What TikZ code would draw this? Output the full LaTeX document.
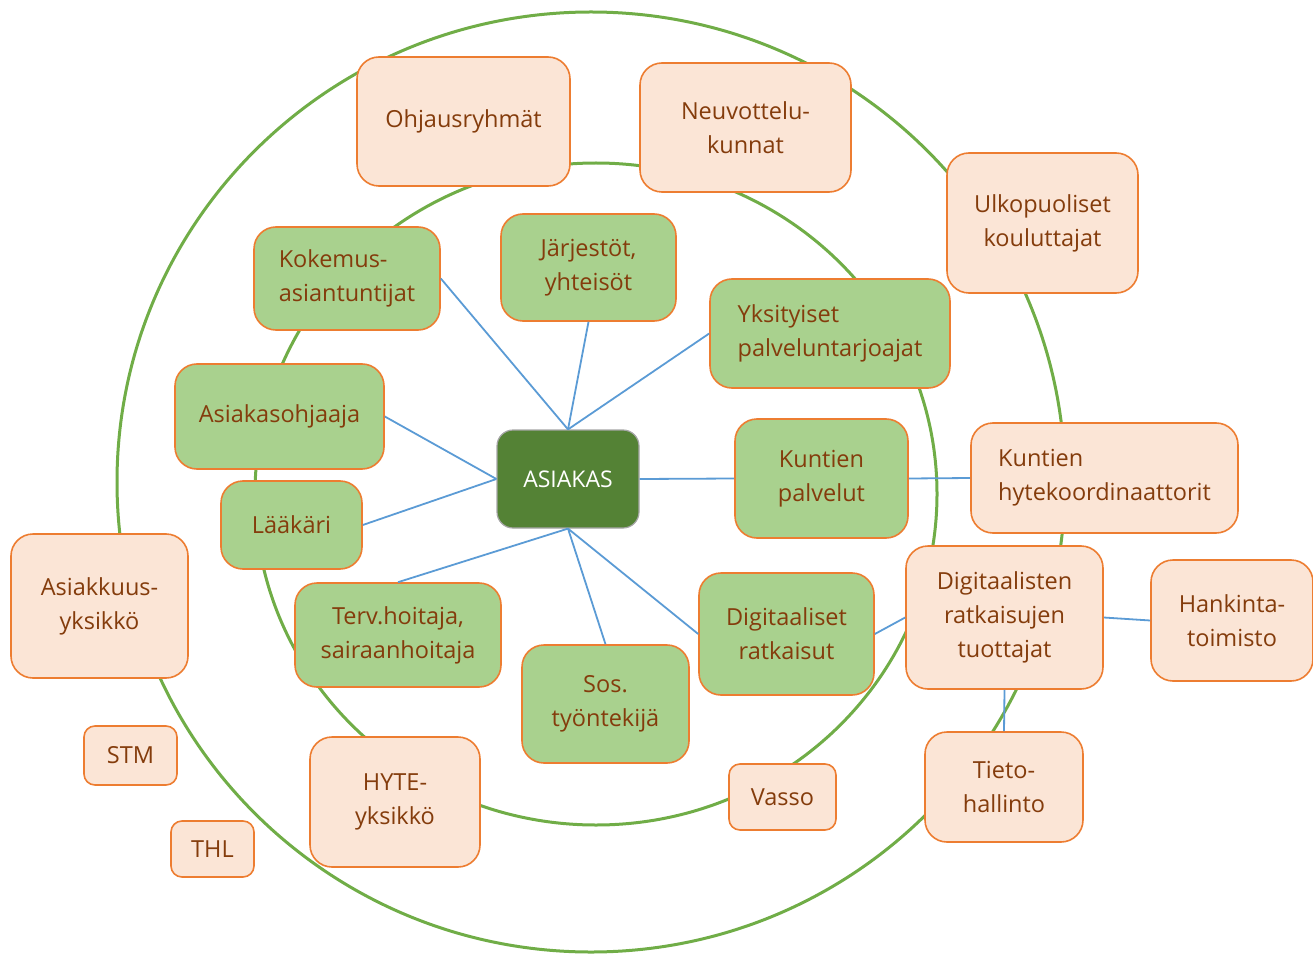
\documentclass[tikz,border=0pt]{standalone}
\usepackage{fontspec}
\setmainfont{Open Sans}
\definecolor{ringgreen}{HTML}{70AD47}
\definecolor{peachfill}{HTML}{FBE5D6}
\definecolor{leaffill}{HTML}{A9D18E}
\definecolor{rimorange}{HTML}{ED7D31}
\definecolor{inkbrown}{HTML}{843C0C}
\definecolor{darkleaf}{HTML}{548235}
\definecolor{linkblue}{HTML}{5B9BD5}
\tikzset{
  card/.style={draw=rimorange, line width=1.6pt, rounded corners=22pt,
    text=inkbrown, font=\fontsize{23.5}{34}\selectfont, inner sep=0pt},
  peach/.style={card, fill=peachfill},
  leaf/.style={card, fill=leaffill},
  tag/.style={peach, rounded corners=11pt},
  hub/.style={draw=gray!70, line width=1.2pt, fill=darkleaf, rounded corners=16pt,
    text=white, font=\fontsize{23}{34}\selectfont, inner sep=0pt},
  ring/.style={draw=ringgreen, line width=3pt},
  link/.style={draw=linkblue, line width=1.8pt}
}
\begin{document}
\begin{tikzpicture}[x=1pt,y=-1pt]
\useasboundingbox (0,0) rectangle (1313,957);
% two rings
\draw[ring] (591,482) ellipse [x radius=474, y radius=470];
\draw[ring] (596,494) ellipse [x radius=341, y radius=331];

% central node
\node[hub, minimum width=142pt, minimum height=98pt] (asiakas) at (568,479) {ASIAKAS};

% inner (green) nodes
\node[leaf, minimum width=186pt, minimum height=103pt, align=left] (kok) at (347,278.5) {Kokemus-\\asiantuntijat};
\node[leaf, minimum width=175pt, minimum height=107pt, align=center] (jar) at (588.5,267.5) {Järjestöt,\\yhteisöt};
\node[leaf, minimum width=240pt, minimum height=109pt, align=left] (yks) at (830,333.5) {Yksityiset\\palveluntarjoajat};
\node[leaf, minimum width=209pt, minimum height=105pt] (ohjaaja) at (279.5,416.5) {Asiakasohjaaja};
\node[leaf, minimum width=141pt, minimum height=88pt] (laak) at (291.5,525) {Lääkäri};
\node[leaf, minimum width=173pt, minimum height=119pt, align=center] (kpal) at (821.5,478.5) {Kuntien\\palvelut};
\node[leaf, minimum width=206pt, minimum height=104pt, align=center] (terv) at (398,635) {Terv.hoitaja,\\sairaanhoitaja};
\node[leaf, minimum width=167pt, minimum height=118pt, align=center] (sos) at (605.5,704) {Sos.\\työntekijä};
\node[leaf, minimum width=175pt, minimum height=122pt, align=center] (digi) at (786.5,634) {Digitaaliset\\ratkaisut};

% outer (peach) nodes
\node[peach, minimum width=213pt, minimum height=129pt] (ohjr) at (463.5,121.5) {Ohjausryhmät};
\node[peach, minimum width=211pt, minimum height=129pt, align=center] (neuv) at (745.5,127.5) {Neuvottelu-\\kunnat};
\node[peach, minimum width=191pt, minimum height=140pt, align=center] (ulko) at (1042.5,223) {Ulkopuoliset\\kouluttajat};
\node[peach, minimum width=267pt, minimum height=110pt, align=left] (hyte) at (1104.5,478) {Kuntien\\hytekoordinaattorit};
\node[peach, minimum width=177pt, minimum height=144pt, align=center] (asyk) at (99.5,606) {Asiakkuus-\\yksikkö};
\node[peach, minimum width=197pt, minimum height=143pt, align=center] (tuot) at (1004.5,617.5) {Digitaalisten\\ratkaisujen\\tuottajat};
\node[peach, minimum width=162pt, minimum height=121pt, align=center] (hank) at (1232,620.5) {Hankinta-\\toimisto};
\node[peach, minimum width=170pt, minimum height=130pt, align=center] (hyyk) at (395,802) {HYTE-\\yksikkö};
\node[peach, minimum width=158pt, minimum height=110pt, align=center] (tieto) at (1004,787) {Tieto-\\hallinto};
\node[tag, minimum width=93pt, minimum height=59pt] (stm) at (130.5,755.5) {STM};
\node[tag, minimum width=83pt, minimum height=56pt] (thl) at (212.5,849) {THL};
\node[tag, minimum width=107pt, minimum height=66pt] (vasso) at (782.5,797) {Vasso};

% connectors from the hub and between neighbouring cards
\draw[link] (asiakas.north) -- (kok.east);
\draw[link] (asiakas.north) -- (jar.south);
\draw[link] (asiakas.north) -- (yks.west);
\draw[link] (asiakas.west) -- (ohjaaja.east);
\draw[link] (asiakas.west) -- (laak.east);
\draw[link] (asiakas.east) -- (kpal.west);
\draw[link] (asiakas.south) -- (terv.north);
\draw[link] (asiakas.south) -- (sos.north);
\draw[link] (asiakas.south) -- (digi.west);
\draw[link] (kpal.east) -- (hyte.west);
\draw[link] (digi.east) -- (tuot.west);
\draw[link] (tuot.east) -- (hank.west);
\draw[link] (tuot.south) -- (tieto.north);
\end{tikzpicture}
\end{document}
